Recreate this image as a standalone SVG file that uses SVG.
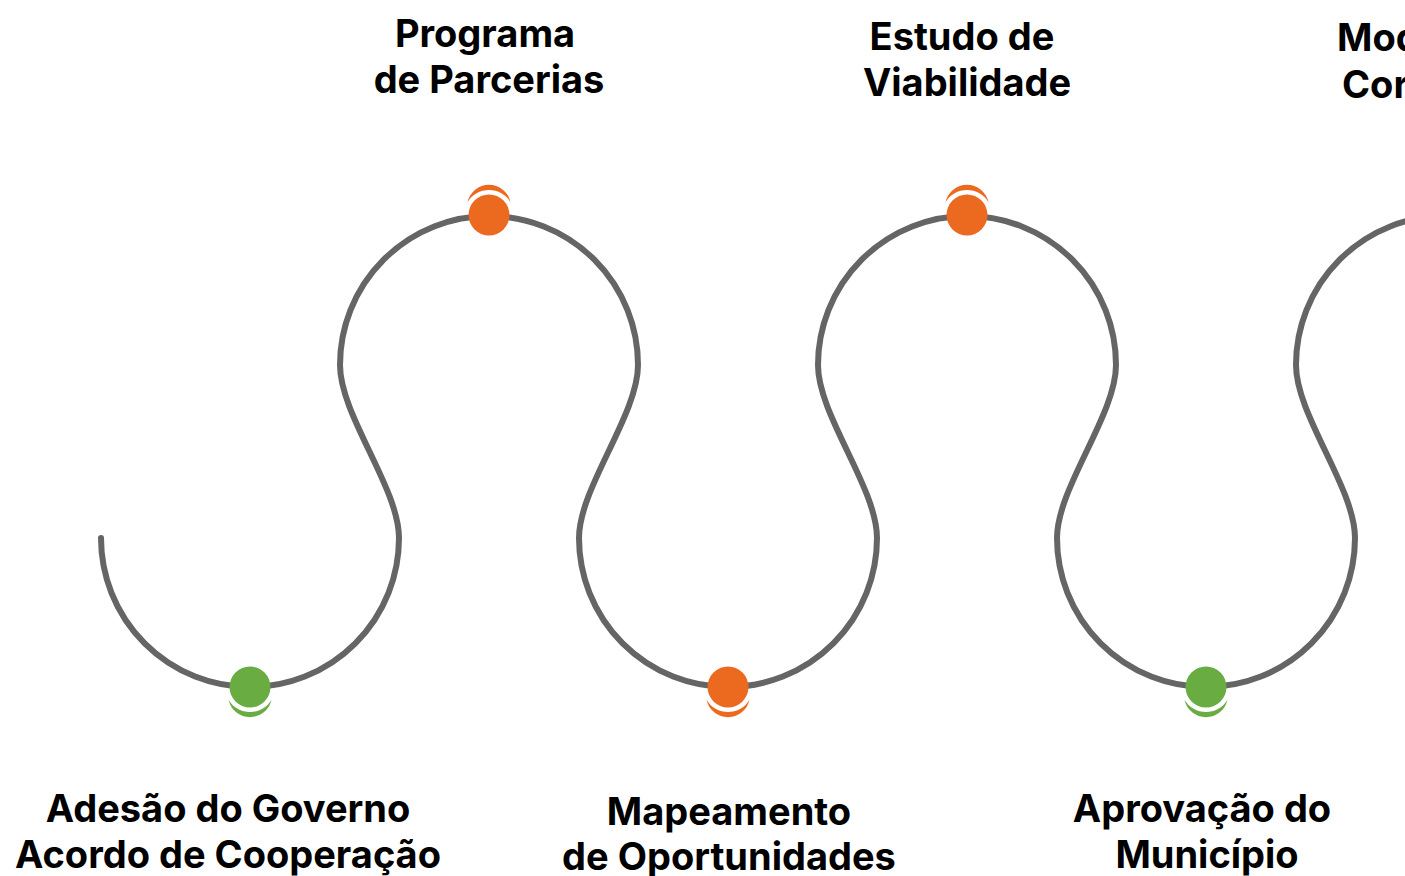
<svg xmlns="http://www.w3.org/2000/svg" xmlns:xlink="http://www.w3.org/1999/xlink" width="1405" height="876" viewBox="0 0 1405 876">
  <style>
    .lbl { font-family: Inter, "Noto Sans", "Liberation Sans", sans-serif; font-weight: 700; font-size: 38px; fill: #000; text-anchor: middle; }
    .lbl-start { text-anchor: start; }
    .track { fill: none; stroke: #656565; stroke-width: 6; stroke-linecap: round; }
    .orange { fill: #EC6A20; }
    .green { fill: #68AC42; }
  </style>
  <defs>
    <path id="cres" d="M -21.5 -12.8 A 22 22 0 0 1 21.5 -12.8 A 25 25 0 0 0 -21.5 -12.8 Z"/>
  </defs>
  <rect width="1405" height="876" fill="#fff"/>
  <g id="connectors">
    <path class="track" d="M 101 538 A 149 149 0 0 0 399 538 C 399 488 340 415 340 365 A 149 149 0 0 1 638 365 C 638 415 579 488 579 538 A 149 149 0 0 0 877 538 C 877 488 818 415 818 365 A 149 149 0 0 1 1116 365 C 1116 415 1057 488 1057 538 A 149 149 0 0 0 1355 538 C 1355 488 1296 415 1296 365 A 149 149 0 0 1 1445 216 A 149 149 0 0 1 1594 365"/>
  </g>
  <g id="node-adesao">
    <use xlink:href="#cres" class="green" transform="translate(250,687) scale(1,-1)"/>
    <circle class="green" cx="250" cy="687" r="20.5"/>
    <text class="lbl" x="228" y="822">Adesão do Governo</text>
    <text class="lbl" x="228" y="868">Acordo de Cooperação</text>
  </g>
  <g id="node-programa">
    <use xlink:href="#cres" class="orange" transform="translate(489,215)"/>
    <circle class="orange" cx="489" cy="215" r="20.5"/>
    <text class="lbl" x="485" y="47">Programa</text>
    <text class="lbl" x="489" y="93">de Parcerias</text>
  </g>
  <g id="node-mapeamento">
    <use xlink:href="#cres" class="orange" transform="translate(728,687) scale(1,-1)"/>
    <circle class="orange" cx="728" cy="687" r="20.5"/>
    <text class="lbl" x="729" y="825">Mapeamento</text>
    <text class="lbl" x="729" y="870">de Oportunidades</text>
  </g>
  <g id="node-estudo">
    <use xlink:href="#cres" class="orange" transform="translate(967,215)"/>
    <circle class="orange" cx="967" cy="215" r="20.5"/>
    <text class="lbl" x="962" y="50">Estudo de</text>
    <text class="lbl" x="967" y="96">Viabilidade</text>
  </g>
  <g id="node-aprovacao">
    <use xlink:href="#cres" class="green" transform="translate(1206,687) scale(1,-1)"/>
    <circle class="green" cx="1206" cy="687" r="20.5"/>
    <text class="lbl" x="1202" y="822">Aprovação do</text>
    <text class="lbl" x="1207" y="868">Município</text>
  </g>
  <g id="node-mod">
    <text class="lbl lbl-start" x="1337" y="51">Mod</text>
    <text class="lbl lbl-start" x="1342" y="98">Cor</text>
  </g>
</svg>
